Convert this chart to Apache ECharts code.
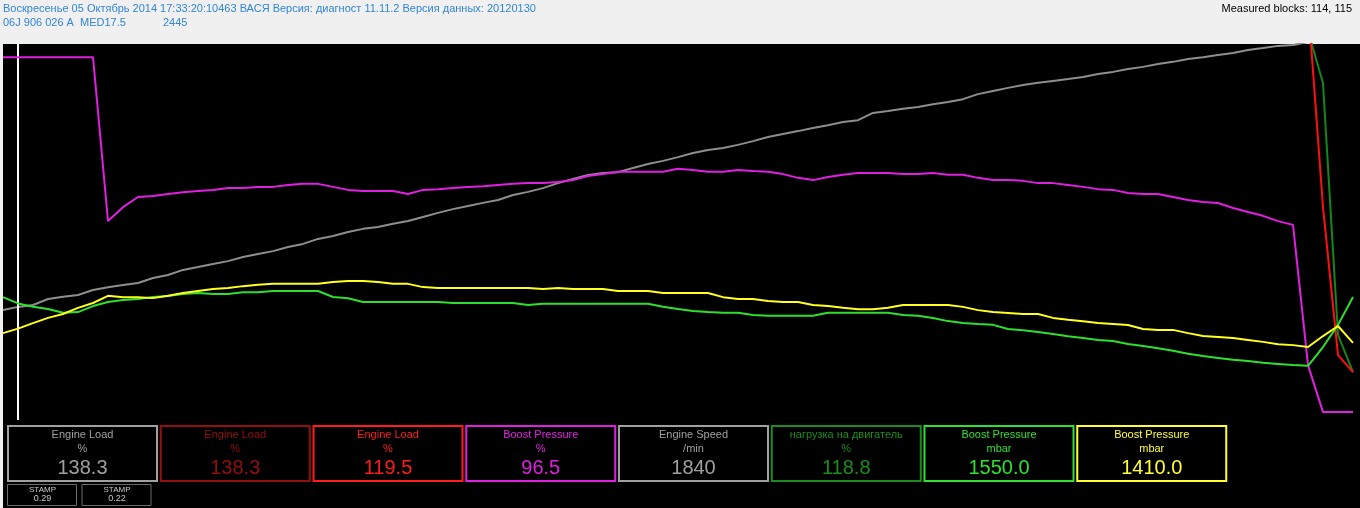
<!DOCTYPE html>
<html>
<head>
<meta charset="utf-8">
<script src="https://cdn.jsdelivr.net/npm/echarts@6/dist/echarts.min.js"></script>
<style>
  html, body { margin: 0; padding: 0; background: #000; }
  #chart { width: 1360px; height: 508px; }
</style>
</head>
<body>
<div id="chart"></div>
<script>
// ---------------- DATA ----------------
const headerLine1 = 'Воскресенье 05 Октябрь 2014 17:33:20:10463 ВАСЯ Версия: диагност 11.11.2 Версия данных: 20120130';
const headerPart = '06J 906 026 A  MED17.5';
const headerCode = '2445';
const measuredBlocks = 'Measured blocks: 114, 115';

// Engine Speed (/min), gray
const engineSpeed = [
  1755,1805,1835,1930,1965,1995,2075,2120,2155,2185,
  2265,2315,2395,2440,2490,2535,2600,2650,2695,2760,
  2810,2890,2935,3000,3050,3080,3130,3175,3240,3305,
  3365,3415,3465,3510,3590,3640,3700,3780,3845,3910,
  3940,3955,4020,4085,4135,4195,4260,4310,4340,4390,
  4450,4515,4565,4610,4660,4705,4755,4785,4900,4930,
  4965,4995,5040,5075,5120,5200,5250,5300,5345,5380,
  5410,5440,5475,5520,5555,5600,5635,5680,5715,5760,
  5790,5825,5855,5905,5935,5970,5985,6030,6060,6080,
  6100
];
// Boost Pressure (%), magenta
const boostPct = [
  96.5,96.5,96.5,96.5,96.5,96.5,96.5,52.9,56.6,59.3,
  59.6,60.1,60.6,60.9,61.2,61.7,61.7,62.0,62.0,62.5,
  62.8,62.8,62.0,61.2,60.9,60.9,60.9,60.1,61.2,61.4,
  61.7,62.0,62.2,62.5,62.8,63.0,63.0,63.3,63.8,64.9,
  65.4,66.0,66.0,66.0,66.0,66.8,66.5,66.0,66.0,66.5,
  66.2,66.0,65.4,64.4,63.8,64.6,65.2,65.7,65.7,65.7,
  65.4,65.4,65.7,65.2,65.2,64.4,63.8,63.8,63.6,63.0,
  63.0,62.5,62.0,61.4,61.2,60.4,60.1,60.1,59.3,58.5,
  58.0,57.7,56.4,55.3,54.3,52.9,51.9,14.6,2.1,2.1,
  2.1
];
// Boost Pressure (mbar), green
const boostGreen = [
  1635,1550,1505,1475,1425,1435,1515,1570,1595,1610,
  1635,1650,1675,1690,1675,1675,1700,1700,1715,1715,
  1715,1715,1635,1620,1570,1570,1570,1570,1570,1570,
  1555,1555,1555,1555,1555,1530,1545,1545,1545,1545,
  1545,1545,1545,1545,1505,1475,1450,1435,1425,1425,
  1395,1385,1385,1385,1385,1425,1425,1425,1425,1425,
  1395,1385,1355,1315,1290,1275,1265,1210,1195,1170,
  1145,1115,1090,1065,1050,1010,985,955,920,880,
  850,825,800,785,760,745,730,720,970,1265,
  1635
];
// Boost Pressure (mbar), yellow
const boostYellow = [
  1340,1410,1495,1575,1635,1730,1805,1915,1895,1895,
  1880,1915,1960,1990,2020,2035,2065,2085,2100,2100,
  2100,2100,2130,2145,2145,2130,2100,2100,2050,2035,
  2035,2035,2035,2035,2035,2035,2020,2035,2020,2020,
  2020,1990,1990,1990,1960,1960,1960,1960,1895,1865,
  1865,1835,1820,1820,1775,1760,1730,1710,1710,1730,
  1775,1775,1775,1775,1745,1695,1665,1650,1635,1635,
  1575,1545,1525,1495,1480,1465,1405,1390,1390,1340,
  1295,1280,1265,1235,1205,1170,1155,1125,1295,1450,
  1190
];
// Engine Load (%), red — above the visible range until the end
const engineLoadRed = [
  119.5,119.5,119.5,119.5,119.5,119.5,119.5,119.5,119.5,119.5,
  119.5,119.5,119.5,119.5,119.5,119.5,119.5,119.5,119.5,119.5,
  119.5,119.5,119.5,119.5,119.5,119.5,119.5,119.5,119.5,119.5,
  119.5,119.5,119.5,119.5,119.5,119.5,119.5,119.5,119.5,119.5,
  119.5,119.5,119.5,119.5,119.5,119.5,119.5,119.5,119.5,119.5,
  119.5,119.5,119.5,119.5,119.5,119.5,119.5,119.5,119.5,119.5,
  119.5,119.5,119.5,119.5,119.5,119.5,119.5,119.5,119.5,119.5,
  119.5,119.5,119.5,119.5,119.5,119.5,119.5,119.5,119.5,119.5,
  119.5,119.5,119.5,119.5,119.5,119.5,119.5,122.0,62.3,19.0,
  14.0
];
// нагрузка на двигатель (%), dark green — above the visible range until the end
const loadDarkGreen = [
  118.8,118.8,118.8,118.8,118.8,118.8,118.8,118.8,118.8,118.8,
  118.8,118.8,118.8,118.8,118.8,118.8,118.8,118.8,118.8,118.8,
  118.8,118.8,118.8,118.8,118.8,118.8,118.8,118.8,118.8,118.8,
  118.8,118.8,118.8,118.8,118.8,118.8,118.8,118.8,118.8,118.8,
  118.8,118.8,118.8,118.8,118.8,118.8,118.8,118.8,118.8,118.8,
  118.8,118.8,118.8,118.8,118.8,118.8,118.8,118.8,118.8,118.8,
  118.8,118.8,118.8,118.8,118.8,118.8,118.8,118.8,118.8,118.8,
  118.8,118.8,118.8,118.8,118.8,118.8,118.8,118.8,118.8,118.8,
  118.8,118.8,118.8,118.8,118.8,118.8,118.8,113.8,98.6,24.9,
  14.0
];
const cursorSample = 0.97;

// value boxes
const boxTitles = ['Engine Load','Engine Load','Engine Load','Boost Pressure','Engine Speed','нагрузка на двигатель','Boost Pressure','Boost Pressure'];
const boxUnits  = ['%','%','%','%','/min','%','mbar','mbar'];
const boxValues = ['138.3','138.3','119.5','96.5','1840','118.8','1550.0','1410.0'];
const stampLabels = ['STAMP','STAMP'];
const stampValues = ['0.29','0.22'];

// ---------------- STYLE ----------------
const boxColors = ['#a0a0a0','#931010','#ff1c1c','#e020e0','#a0a0a0','#1c8c1c','#30e030','#ffff30'];
const FONT = '"Liberation Sans", Arial, sans-serif';

const toPairs = arr => arr.map((v, i) => [i, v]);

const graphics = [
  { type: 'rect', z: 0, shape: { x: 0, y: 0, width: 1360, height: 44 }, style: { fill: '#f0f0f0' } },
  { type: 'rect', z: 0, shape: { x: 0, y: 44, width: 3, height: 464 }, style: { fill: '#f0f0f0' } },
  { type: 'text', z: 1, x: 3, y: 9, style: { text: headerLine1, fill: '#3385d6', font: '11px ' + FONT, verticalAlign: 'middle' } },
  { type: 'text', z: 1, x: 3, y: 23, style: { text: headerPart, fill: '#3385d6', font: '11px ' + FONT, verticalAlign: 'middle' } },
  { type: 'text', z: 1, x: 163, y: 23, style: { text: headerCode, fill: '#3385d6', font: '11px ' + FONT, verticalAlign: 'middle' } },
  { type: 'text', z: 1, x: 1352, y: 9, style: { text: measuredBlocks, fill: '#000', font: '11px ' + FONT, align: 'right', verticalAlign: 'middle' } }
];

boxTitles.forEach((t, i) => {
  const x = 8 + 152.75 * i;
  const c = boxColors[i];
  graphics.push({ type: 'rect', z: 1, shape: { x: x, y: 426, width: 149, height: 55 }, style: { fill: '#000', stroke: c, lineWidth: 2 } });
  graphics.push({ type: 'text', z: 2, x: x + 74.5, y: 435, style: { text: t, fill: c, font: '11px ' + FONT, align: 'center', verticalAlign: 'middle' } });
  graphics.push({ type: 'text', z: 2, x: x + 74.5, y: 449, style: { text: boxUnits[i], fill: c, font: '11px ' + FONT, align: 'center', verticalAlign: 'middle' } });
  graphics.push({ type: 'text', z: 2, x: x + 74.5, y: 468, style: { text: boxValues[i], fill: c, font: '20px ' + FONT, align: 'center', verticalAlign: 'middle' } });
});
stampLabels.forEach((t, i) => {
  const x = 7.5 + 74.5 * i;
  graphics.push({ type: 'rect', z: 1, shape: { x: x, y: 484.5, width: 69, height: 21 }, style: { fill: '#000', stroke: '#6a6a6a', lineWidth: 1 } });
  graphics.push({ type: 'text', z: 2, x: x + 35, y: 490, style: { text: t, fill: '#c8c8c8', font: '8px ' + FONT, align: 'center', verticalAlign: 'middle' } });
  graphics.push({ type: 'text', z: 2, x: x + 35, y: 499, style: { text: stampValues[i], fill: '#c8c8c8', font: '9px ' + FONT, align: 'center', verticalAlign: 'middle' } });
});

const hiddenY = (min, max) => ({ type: 'value', min: min, max: max, show: false, splitLine: { show: false } });

const lineSeries = (name, data, yIdx, color, z) => ({
  name: name, type: 'line', data: toPairs(data), yAxisIndex: yIdx,
  showSymbol: false, symbol: 'none', clip: true, animation: false, z: z,
  lineStyle: { color: color, width: 2 }, itemStyle: { color: color }
});

const chart = echarts.init(document.getElementById('chart'), null, { renderer: 'canvas' });
const speedSeries = lineSeries('Engine Speed', engineSpeed, 0, '#8e8e8e', 2);
speedSeries.markLine = {
  silent: true, symbol: ['none', 'none'], animation: false,
  label: { show: false },
  lineStyle: { color: '#ffffff', width: 2, type: 'solid' },
  data: [{ xAxis: cursorSample }]
};
chart.setOption({
  backgroundColor: '#000000',
  animation: false,
  grid: { left: 3, top: 44, width: 1350, height: 376, containLabel: false },
  xAxis: { type: 'value', min: 0, max: 90, show: false, splitLine: { show: false } },
  yAxis: [hiddenY(0, 6000), hiddenY(0, 100), hiddenY(0, 5000), hiddenY(0, 5800), hiddenY(0, 110), hiddenY(0, 110)],
  graphic: graphics,
  series: [
    speedSeries,
    lineSeries('нагрузка на двигатель', loadDarkGreen, 5, '#14861a', 3),
    lineSeries('Engine Load', engineLoadRed, 4, '#ff1010', 4),
    lineSeries('Boost Pressure %', boostPct, 1, '#e020e0', 5),
    lineSeries('Boost Pressure mbar', boostGreen, 2, '#2ee02e', 6),
    lineSeries('Boost Pressure mbar 2', boostYellow, 3, '#ffff20', 7)
  ]
});
</script>
</body>
</html>
